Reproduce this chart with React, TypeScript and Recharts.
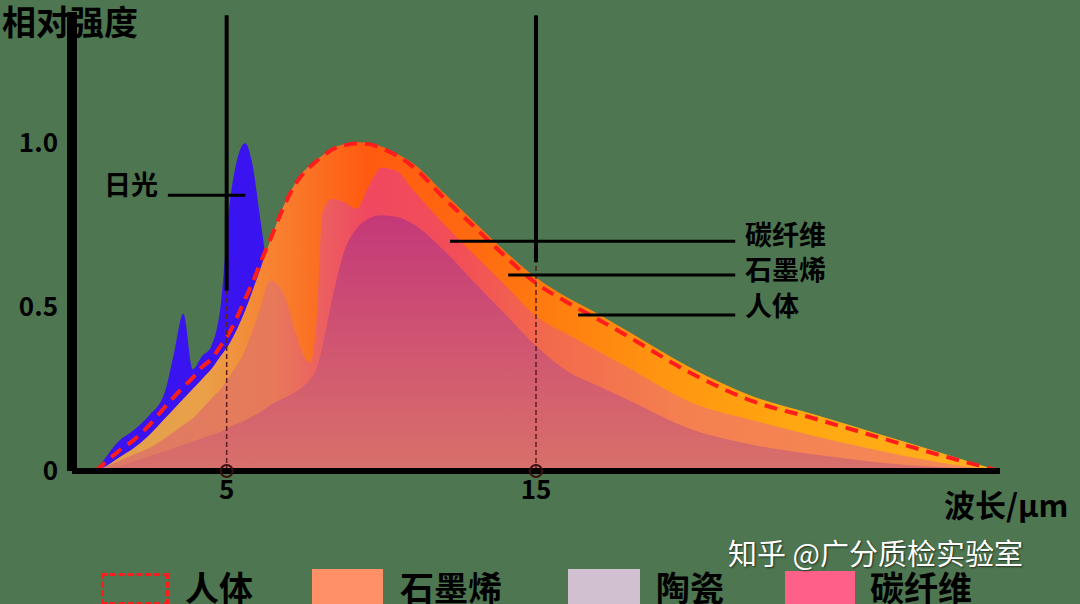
import React from "react";
import { ComposedChart, Area, Line, XAxis, YAxis, ReferenceLine, ReferenceDot } from "recharts";

// wavelength in μm
const wavelength = [0.75, 1, 1.5, 2, 2.5, 3, 3.3, 3.6, 3.9, 4.2, 4.5, 4.8, 5.1, 5.6, 5.8, 6.1, 6.4, 6.8, 7.2, 7.5, 7.7, 7.9, 8.1, 8.4, 8.8, 9.2, 9.6, 10, 10.5, 11, 12, 13, 14, 15, 16, 17, 18, 20, 22, 24, 26, 28, 30];

const humanBody = [0, 0.02, 0.06, 0.095, 0.14, 0.195, 0.226, 0.256, 0.284, 0.317, 0.341, 0.381, 0.424, 0.525, 0.567, 0.637, 0.704, 0.796, 0.872, 0.91, 0.928, 0.945, 0.96, 0.98, 0.993, 0.999, 0.997, 0.985, 0.962, 0.93, 0.835, 0.745, 0.655, 0.573, 0.515, 0.463, 0.409, 0.299, 0.213, 0.16, 0.105, 0.05, 0];

const graphene = [0, 0.01, 0.04, 0.07, 0.11, 0.16, 0.19, 0.22, 0.25, 0.28, 0.31, 0.35, 0.39, 0.49, 0.54, 0.62, 0.7, 0.8, 0.875, 0.915, 0.932, 0.948, 0.963, 0.984, 0.997, 1.003, 1.001, 0.99, 0.968, 0.94, 0.85, 0.76, 0.67, 0.59, 0.53, 0.48, 0.425, 0.315, 0.228, 0.172, 0.115, 0.058, 0];

const carbonFiber = [0, 0.01, 0.03, 0.05, 0.07, 0.1, 0.12, 0.14, 0.16, 0.19, 0.22, 0.25, 0.29, 0.37, 0.42, 0.5, 0.58, 0.55, 0.43, 0.35, 0.33, 0.45, 0.79, 0.83, 0.82, 0.8, 0.87, 0.925, 0.915, 0.86, 0.756, 0.66, 0.567, 0.473, 0.418, 0.366, 0.314, 0.21, 0.155, 0.107, 0.064, 0.027, 0];

const ceramic = [0, 0.005, 0.015, 0.03, 0.045, 0.06, 0.07, 0.08, 0.09, 0.1, 0.11, 0.12, 0.135, 0.155, 0.165, 0.18, 0.2, 0.22, 0.24, 0.26, 0.28, 0.31, 0.38, 0.52, 0.67, 0.74, 0.77, 0.78, 0.775, 0.755, 0.675, 0.576, 0.479, 0.381, 0.305, 0.26, 0.216, 0.128, 0.08, 0.05, 0.027, 0.012, 0];

const sunLight: (number | null)[] = [0, 0.03, 0.09, 0.125, 0.17, 0.24, 0.36, 0.48, 0.31, 0.35, 0.38, 0.5, 0.82, 1.0, 0.95, 0.76, 0.55, null, null, null, null, null, null, null, null, null, null, null, null, null, null, null, null, null, null, null, null, null, null, null, null, null, null];

const xTicks = [5, 15];
const yTicks = [0, 0.5, 1];

const rows = wavelength.map((w, i) => ({
  w,
  human: humanBody[i],
  graphene: graphene[i],
  carbon: carbonFiber[i],
  ceramic: ceramic[i],
  sun: sunLight[i],
}));

const font = '"Noto Sans CJK SC", "Noto Sans", sans-serif';
const labelStyle: React.CSSProperties = {
  position: "absolute",
  fontFamily: font,
  fontWeight: 700,
  color: "#000",
  whiteSpace: "nowrap",
  lineHeight: 1,
};

export default function App() {
  return (
    <div
      style={{
        position: "absolute",
        left: 0,
        top: 0,
        width: 1080,
        height: 604,
        overflow: "hidden",
        background: "#4e7650",
        fontFamily: font,
      }}
    >
      <ComposedChart width={1080} height={604} data={rows} margin={{ top: 12, right: 80, bottom: 93, left: 0 }}>
        <defs>
          <linearGradient id="gGraphene" x1="0" y1="0" x2="1" y2="0">
            <stop offset="0" stopColor="#e0a050" />
            <stop offset="0.12" stopColor="#eaa048" />
            <stop offset="0.2" stopColor="#f88030" />
            <stop offset="0.3" stopColor="#ff5a10" />
            <stop offset="0.42" stopColor="#ff6a10" />
            <stop offset="0.5" stopColor="#ff7c10" />
            <stop offset="0.62" stopColor="#ff9410" />
            <stop offset="0.78" stopColor="#ffa810" />
            <stop offset="1" stopColor="#ffb020" />
          </linearGradient>
          <linearGradient id="gCarbon" x1="0" y1="0" x2="1" y2="0">
            <stop offset="0" stopColor="#dc7a68" />
            <stop offset="0.15" stopColor="#e47c5c" />
            <stop offset="0.2" stopColor="#e8785a" />
            <stop offset="0.25" stopColor="#ec6060" />
            <stop offset="0.3" stopColor="#f04860" />
            <stop offset="0.4" stopColor="#f24e58" />
            <stop offset="0.5" stopColor="#f26a4c" />
            <stop offset="0.65" stopColor="#f48050" />
            <stop offset="1" stopColor="#f58a58" />
          </linearGradient>
          <linearGradient id="gCeramic" x1="0" y1="0" x2="0" y2="1">
            <stop offset="0" stopColor="#c43878" />
            <stop offset="0.35" stopColor="#cc4c74" />
            <stop offset="0.7" stopColor="#d4606e" />
            <stop offset="1" stopColor="#d8706a" />
          </linearGradient>
        </defs>
        <XAxis
          dataKey="w"
          type="number"
          domain={[0, 30]}
          ticks={xTicks}
          height={40}
          tickLine={false}
          tickMargin={4}
          axisLine={{ stroke: "#000", strokeWidth: 6 }}
          tick={{ fill: "#000", fontSize: 26, fontWeight: 700, fontFamily: font }}
        />
        <YAxis
          type="number"
          domain={[0, 1.4]}
          ticks={yTicks}
          width={72}
          tickLine={false}
          tickMargin={8}
          tickFormatter={(v: number) => (v === 0 ? "0" : v.toFixed(1))}
          axisLine={{ stroke: "#000", strokeWidth: 10 }}
          tick={{ fill: "#000", fontSize: 26, fontWeight: 700, fontFamily: font }}
        />
        <Area type="monotone" dataKey="sun" stroke="none" fill="#3a14f0" fillOpacity={1} isAnimationActive={false} />
        <Area type="monotone" dataKey="graphene" stroke="none" fill="url(#gGraphene)" fillOpacity={1} isAnimationActive={false} />
        <Area type="monotone" dataKey="carbon" stroke="none" fill="url(#gCarbon)" fillOpacity={1} isAnimationActive={false} />
        <Area type="monotone" dataKey="ceramic" stroke="none" fill="url(#gCeramic)" fillOpacity={1} isAnimationActive={false} />
        <Line type="monotone" dataKey="human" stroke="#ff1c1c" strokeWidth={4} strokeDasharray="13 8" dot={false} isAnimationActive={false} />

        {/* marker lines */}
        <ReferenceLine segment={[{ x: 5, y: 0.55 }, { x: 5, y: 1.39 }]} stroke="#000" strokeWidth={4} ifOverflow="visible" />
        <ReferenceLine segment={[{ x: 5, y: 0 }, { x: 5, y: 0.55 }]} stroke="#5a2020" strokeWidth={1.5} strokeDasharray="5 3" ifOverflow="visible" />
        <ReferenceLine segment={[{ x: 15, y: 0.637 }, { x: 15, y: 1.39 }]} stroke="#000" strokeWidth={4} ifOverflow="visible" />
        <ReferenceLine segment={[{ x: 15, y: 0 }, { x: 15, y: 0.637 }]} stroke="#5a2020" strokeWidth={1.5} strokeDasharray="5 3" ifOverflow="visible" />
        <ReferenceDot x={5} y={0} r={6} fill="none" stroke="#3a1010" strokeWidth={2} ifOverflow="visible" />
        <ReferenceDot x={15} y={0} r={6} fill="none" stroke="#3a1010" strokeWidth={2} ifOverflow="visible" />

        {/* label leaders */}
        <ReferenceLine segment={[{ x: 3.1, y: 0.841 }, { x: 5.6, y: 0.841 }]} stroke="#000" strokeWidth={3} ifOverflow="visible" />
        <ReferenceLine segment={[{ x: 12.22, y: 0.701 }, { x: 21.44, y: 0.701 }]} stroke="#000" strokeWidth={3} ifOverflow="visible" />
        <ReferenceLine segment={[{ x: 14.1, y: 0.598 }, { x: 21.44, y: 0.598 }]} stroke="#000" strokeWidth={3} ifOverflow="visible" />
        <ReferenceLine segment={[{ x: 16.36, y: 0.476 }, { x: 21.44, y: 0.476 }]} stroke="#000" strokeWidth={3} ifOverflow="visible" />
      </ComposedChart>

      <div style={{ ...labelStyle, left: 2, top: 4, fontSize: 34 }}>相对强度</div>
      <div style={{ ...labelStyle, left: 944, top: 488, fontSize: 31 }}>波长/μm</div>
      <div style={{ ...labelStyle, left: 104, top: 170, fontSize: 27 }}>日光</div>
      <div style={{ ...labelStyle, left: 745, top: 220, fontSize: 27 }}>碳纤维</div>
      <div style={{ ...labelStyle, left: 745, top: 255, fontSize: 27 }}>石墨烯</div>
      <div style={{ ...labelStyle, left: 745, top: 291, fontSize: 27 }}>人体</div>

      {/* legend */}
      <div style={{ position: "absolute", left: 101, top: 573, width: 62, height: 26, border: "3px dashed #ff1c1c" }} />
      <div style={{ ...labelStyle, left: 185, top: 570, fontSize: 34 }}>人体</div>
      <div style={{ position: "absolute", left: 312, top: 569, width: 71, height: 40, background: "#ff9068" }} />
      <div style={{ ...labelStyle, left: 400, top: 570, fontSize: 34 }}>石墨烯</div>
      <div style={{ position: "absolute", left: 568, top: 569, width: 72, height: 40, background: "#d0c0d0" }} />
      <div style={{ ...labelStyle, left: 656, top: 570, fontSize: 34 }}>陶瓷</div>
      <div style={{ position: "absolute", left: 785, top: 571, width: 70, height: 40, background: "#ff6088" }} />
      <div style={{ ...labelStyle, left: 870, top: 570, fontSize: 34 }}>碳纤维</div>

      <div
        style={{
          ...labelStyle,
          left: 728,
          top: 538,
          fontSize: 29,
          fontWeight: 400,
          color: "#fff",
          textShadow: "1px 1px 2px rgba(0,0,0,0.6)",
        }}
      >
        知乎 @广分质检实验室
      </div>
    </div>
  );
}
